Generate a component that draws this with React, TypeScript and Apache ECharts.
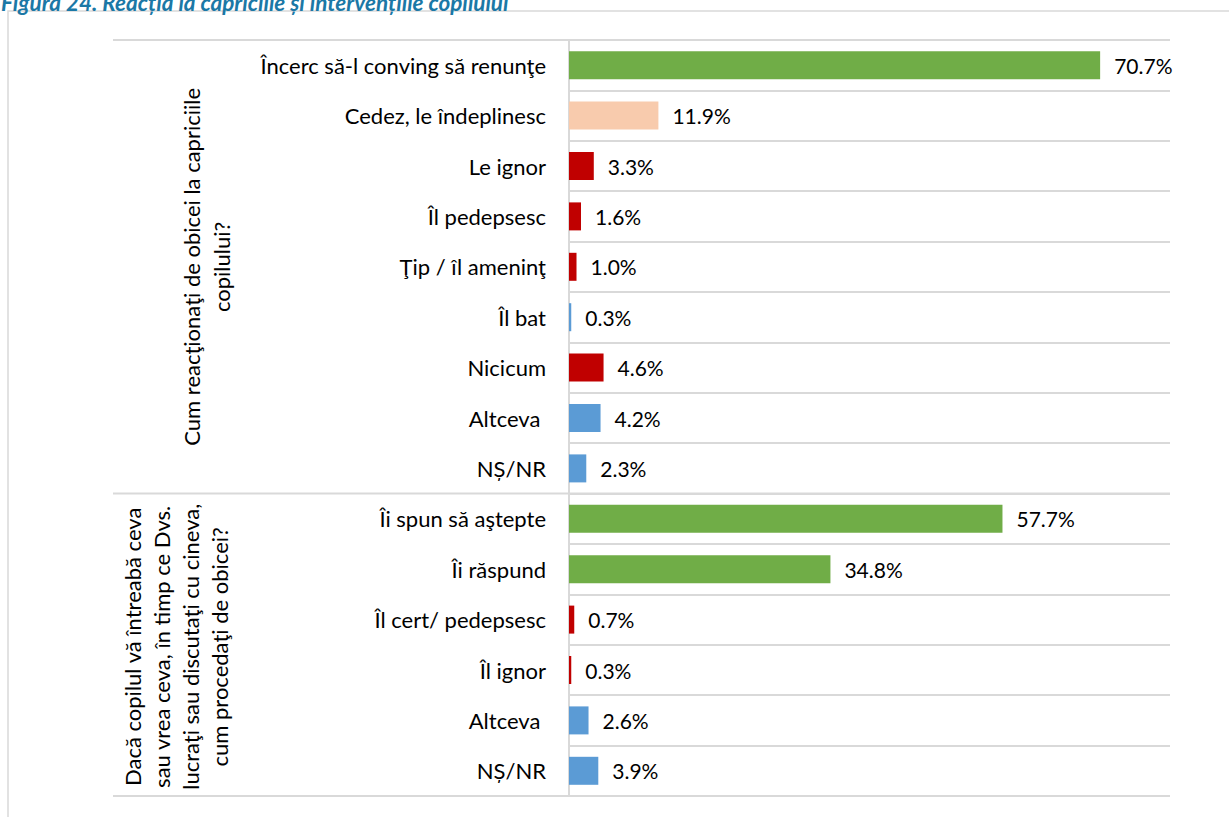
import React, { useEffect, useRef } from "react";
import * as echarts from "echarts";

const categories = [
  "Încerc să-l conving să renunţe",
  "Cedez, le îndeplinesc",
  "Le ignor",
  "Îl pedepsesc",
  "Ţip / îl ameninţ",
  "Îl bat",
  "Nicicum",
  "Altceva ",
  "NȘ/NR",
  "Îi spun să aştepte",
  "Îi răspund",
  "Îl cert/ pedepsesc",
  "Îl ignor",
  "Altceva ",
  "NȘ/NR",
];
const values = [70.7, 11.9, 3.3, 1.6, 1.0, 0.3, 4.6, 4.2, 2.3, 57.7, 34.8, 0.7, 0.3, 2.6, 3.9];
const colorKeys = [
  "green", "peach", "red", "red", "red", "blue", "red", "blue", "blue",
  "green", "green", "red", "red", "blue", "blue",
];
const groupLabels = [
  "Cum reacţionaţi de obicei la capriciile\ncopilului?",
  "Dacă copilul vă întreabă ceva\nsau vrea ceva, în timp ce Dvs.\nlucraţi sau discutaţi cu cineva,\ncum procedaţi de obicei?",
];
const groupSizes = [9, 6];
const titleText = "Figura 24. Reacția la capriciile și intervențiile copilului";

const palette: Record<string, string> = {
  green: "#70AD47",
  peach: "#F8CBAD",
  red: "#C00000",
  blue: "#5B9BD5",
};

const W = 1229;
const H = 817;
const GRID_LEFT = 569;
const GRID_RIGHT_X = 1170;
const GRID_TOP = 40;
const GRID_BOTTOM_Y = 796;
const FONT = "Lato, 'Noto Sans', sans-serif";
const LINE = "#D9D9D9";

export default function App() {
  const ref = useRef<HTMLDivElement>(null);
  useEffect(() => {
    if (!ref.current) return;
    const chart = echarts.init(ref.current, undefined, { renderer: "svg" });
    const rowH = (GRID_BOTTOM_Y - GRID_TOP) / categories.length;
    const sepY = [GRID_TOP, GRID_TOP + rowH * groupSizes[0], GRID_BOTTOM_Y];
    const g1c = GRID_TOP + (rowH * groupSizes[0]) / 2;
    const g2c = GRID_TOP + rowH * groupSizes[0] + (rowH * groupSizes[1]) / 2;

    chart.setOption({
      animation: false,
      backgroundColor: "#ffffff",
      grid: {
        left: GRID_LEFT,
        right: W - GRID_RIGHT_X,
        top: GRID_TOP,
        bottom: H - GRID_BOTTOM_Y,
        containLabel: false,
      },
      xAxis: {
        type: "value",
        min: 0,
        max: 80,
        show: false,
        splitLine: { show: false },
      },
      yAxis: {
        type: "category",
        inverse: true,
        data: categories,
        axisLine: { show: true, lineStyle: { color: LINE, width: 2 } },
        axisTick: { show: false },
        axisLabel: {
          color: "#000000",
          fontSize: 22,
          fontFamily: FONT,
          margin: 23,
        },
        splitLine: { show: true, lineStyle: { color: LINE, width: 2 } },
      },
      series: [
        {
          type: "bar",
          barWidth: 28,
          data: values.map((v, i) => ({
            value: v,
            itemStyle: { color: palette[colorKeys[i]] },
          })),
          label: {
            show: true,
            position: "right",
            distance: 14,
            color: "#000000",
            fontSize: 21,
            fontFamily: FONT,
            formatter: (p: any) => Number(p.value).toFixed(1) + "%",
          },
        },
      ],
      graphic: [
        {
          type: "rect",
          shape: { x: 8, y: 11, width: 1300, height: 900 },
          style: { fill: "none", stroke: LINE, lineWidth: 1.5 },
          silent: true,
        },
        ...sepY.map((y) => ({
          type: "line",
          shape: { x1: 113, y1: y, x2: GRID_RIGHT_X, y2: y },
          style: { stroke: LINE, lineWidth: 2 },
          silent: true,
        })),
        {
          type: "text",
          x: 1,
          y: 14,
          style: {
            text: titleText,
            fill: "#1B78A6",
            font: "italic bold 22.5px Lato, 'Noto Sans', sans-serif",
            textAlign: "left",
            textVerticalAlign: "bottom",
          },
        },
        {
          type: "text",
          x: 206,
          y: g1c,
          rotation: Math.PI / 2,
          style: {
            text: groupLabels[0],
            fill: "#000000",
            fontSize: 22,
            fontFamily: FONT,
            lineHeight: 30,
            textAlign: "center",
            textVerticalAlign: "middle",
          },
        },
        {
          type: "text",
          x: 176,
          y: g2c + 2,
          rotation: Math.PI / 2,
          style: {
            text: groupLabels[1],
            fill: "#000000",
            fontSize: 22,
            fontFamily: FONT,
            lineHeight: 29,
            textAlign: "center",
            textVerticalAlign: "middle",
          },
        },
      ],
    });
    return () => chart.dispose();
  }, []);
  return (
    <div
      ref={ref}
      style={{ position: "absolute", left: 0, top: 0, width: W, height: H, background: "#fff" }}
    />
  );
}
